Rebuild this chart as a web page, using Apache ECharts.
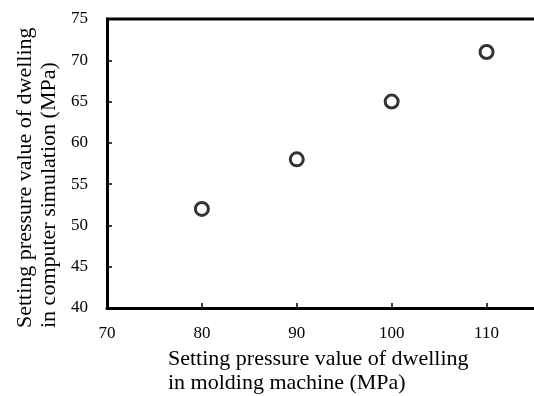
<!DOCTYPE html>
<html>
<head>
<meta charset="utf-8">
<script src="https://cdn.jsdelivr.net/npm/echarts@6/dist/echarts.min.js"></script>
<style>
html, body { margin: 0; padding: 0; background: #fff; }
#main { width: 534px; height: 396px; }
</style>
</head>
<body>
<div id="main"></div>
<script>
// 数据
var machinePressure = [80, 90, 100, 110];
var simPressure = [52, 58, 65, 71];
var xTitle = ['Setting pressure value of dwelling', 'in molding machine (MPa)'];
var yTitle = ['Setting pressure value of dwelling', 'in computer simulation (MPa)'];

var myChart = echarts.init(document.getElementById('main'));

var points = machinePressure.map(function (x, i) {
    return [x, simPressure[i]];
});

var font = '"Liberation Serif", "Times New Roman", serif';

option = {
    backgroundColor: '#fff',
    animation: false,
    grid: {
        left: 107,
        top: 19,
        right: -5,
        bottom: 88
    },
    xAxis: {
        type: 'value',
        min: 70,
        max: 115,
        interval: 10,
        axisLine: { lineStyle: { color: '#000', width: 3 } },
        axisTick: { inside: true, length: 5, lineStyle: { color: '#000', width: 1.5 } },
        axisLabel: { color: '#000', fontFamily: font, fontSize: 17, margin: 17, showMaxLabel: false },
        splitLine: { show: false }
    },
    yAxis: {
        type: 'value',
        min: 40,
        max: 75,
        interval: 5,
        axisLine: { lineStyle: { color: '#000', width: 3 } },
        axisTick: { inside: true, length: 5, lineStyle: { color: '#000', width: 1.5 } },
        axisLabel: { color: '#000', fontFamily: font, fontSize: 17, margin: 19 },
        splitLine: { show: false }
    },
    graphic: [
        // 上边框
        {
            type: 'line',
            shape: { x1: 106, y1: 19, x2: 534, y2: 19 },
            style: { stroke: '#000', lineWidth: 3 }
        },
        {
            type: 'text',
            left: 168,
            top: 347,
            style: {
                text: xTitle.join('\n'),
                font: '22px ' + font,
                lineHeight: 24,
                fill: '#000'
            }
        },
        {
            type: 'text',
            x: 13,
            y: 328,
            rotation: Math.PI / 2,
            style: {
                text: yTitle.join('\n'),
                font: '22px ' + font,
                lineHeight: 24,
                fill: '#000'
            }
        }
    ],
    series: [{
        type: 'scatter',
        data: points,
        symbol: 'circle',
        symbolSize: 13,
        itemStyle: { color: '#fff', borderColor: '#000', borderWidth: 3 }
    }]
};

myChart.setOption(option);
</script>
</body>
</html>
